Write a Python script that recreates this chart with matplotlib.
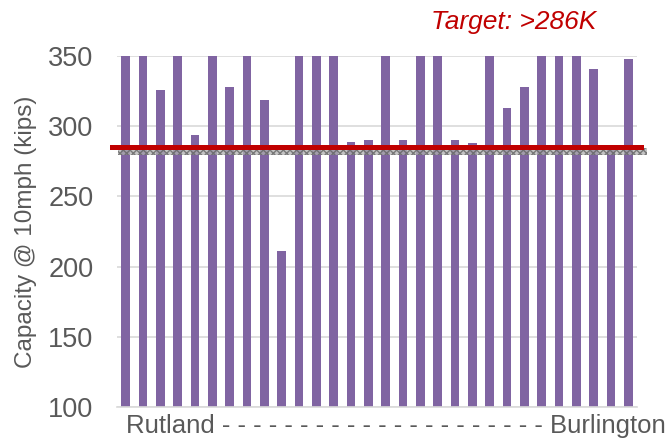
import numpy as np
import matplotlib
matplotlib.use("Agg")
import matplotlib.pyplot as plt
from matplotlib.patches import Rectangle

# capacity per bridge, Rutland -> Burlington (bars above 350 are clipped in the original)
capacity = [360, 360, 326, 360, 294, 360, 328, 360, 319, 211,
            360, 360, 360, 289, 290, 360, 290, 360, 360, 290,
            288, 360, 313, 328, 360, 360, 360, 341, 285, 348]
target = 285.5
current = 282
yticks = [100, 150, 200, 250, 300, 350]

plt.rcParams['font.family'] = ['Liberation Sans', 'DejaVu Sans']
txt = '#595959'

fig = plt.figure(figsize=(6.71, 4.38), dpi=100)
ax = fig.add_axes([117 / 671, 1 - 407 / 438, 520 / 671, 351 / 438])

x = np.arange(len(capacity))
ax.bar(x, capacity, width=0.5, color='#8064A2', zorder=2)

# hatched grey band (current level)
band = Rectangle((0.002, current - 2.5), 1.017, 5, transform=ax.get_yaxis_transform(),
                 facecolor='#b0b0b0', edgecolor='#5f5f5f', hatch='xxxxx', lw=0,
                 alpha=0.75, zorder=3, clip_on=False)
ax.add_patch(band)
ax.axhline(target, xmin=-0.0096, xmax=1.0077, color='#c00000', lw=3.6, zorder=4,
           clip_on=False)

ax.set_ylim(100, 350)
ax.set_xlim(-0.5, len(capacity) - 0.5)
ax.set_yticks(yticks)
ax.set_xticks([])
ax.grid(axis='y', color='#d9d9d9', lw=1.2, zorder=0)
for s in ['top', 'right', 'left']:
    ax.spines[s].set_visible(False)
ax.spines['bottom'].set_color('#d9d9d9')
ax.spines['bottom'].set_linewidth(1.2)
ax.tick_params(axis='y', length=0, labelsize=19.5, labelcolor=txt, pad=17)

ax.set_ylabel('Capacity @ 10mph (kips)', fontsize=17.5, color=txt)
ax.yaxis.set_label_coords(-80 / 520, 0.5)
fig.text(396 / 671, 5 / 438, 'Rutland ' + '- ' * 21 + 'Burlington',
         ha='center', va='baseline', fontsize=18.5, color=txt)
fig.text(514 / 671, 1 - 22 / 438, 'Target: >286K', color='#c00000', fontsize=19,
         style='italic', ha='center', va='center')

fig.savefig('out.png', dpi=100)
